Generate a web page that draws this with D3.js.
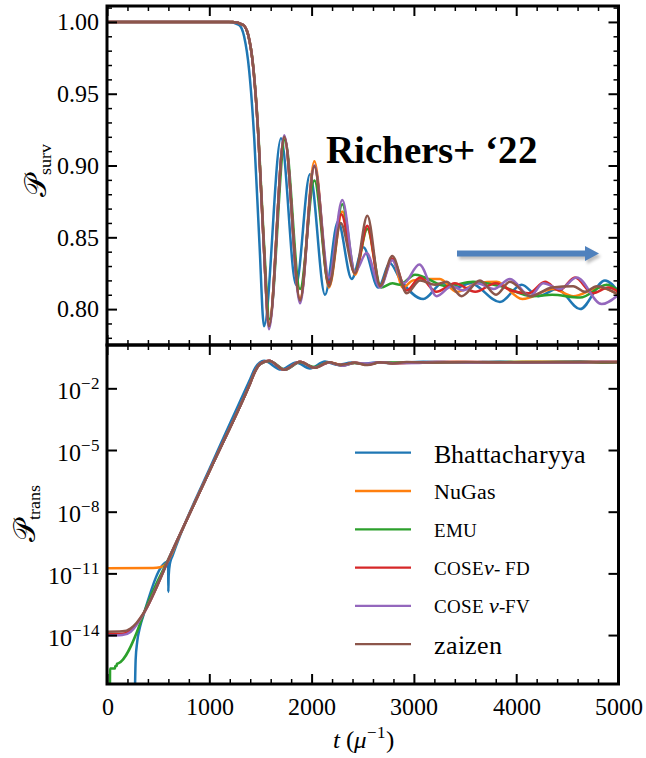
<!DOCTYPE html>
<html>
<head>
<meta charset="utf-8">
<script src="https://cdn.jsdelivr.net/npm/d3@7"></script>
<style>
  @font-face { font-family: "PlotSerif"; src: local("Liberation Serif"), local("LiberationSerif"), local("LiberationSerif-Regular"), local("Tinos"), local("DejaVu Serif"), local("DejaVuSerif"); font-weight: normal; font-style: normal; }
  @font-face { font-family: "PlotSerif"; src: local("Liberation Serif Bold"), local("LiberationSerif-Bold"), local("DejaVu Serif Bold"), local("DejaVuSerif-Bold"); font-weight: bold; font-style: normal; }
  @font-face { font-family: "PlotSerif"; src: local("Liberation Serif Italic"), local("LiberationSerif-Italic"), local("DejaVu Serif Italic"), local("DejaVuSerif-Italic"); font-weight: normal; font-style: italic; }
  body { margin: 0; background: #fff; }
  svg { display: block; }
  svg text { font-family: "PlotSerif", "Liberation Serif", "Times New Roman", Tinos, "DejaVu Serif", "Noto Serif", serif; fill: #000; }
  svg text .script { font-family: "DejaVu Serif", "DejaVu Sans", "PlotSerif", serif; }
</style>
</head>
<body>
<svg id="chart" width="646" height="758"></svg>
<script>
// ---- series metadata ----
const seriesNames  = ["Bhattacharyya", "NuGas", "EMU", "COSEν-FD", "COSEν-FV", "zaizen"];
const seriesColors = ["#1f77b4", "#ff7f0e", "#2ca02c", "#d62728", "#9467bd", "#8c564b"];

// ---- survival probability, [t (1/mu), P_surv] ----
const survBhattacharyya = [[0,1.0],[1190,1.0],[1290,0.998],[1340,0.990],[1390,0.966],[1440,0.918],[1490,0.846],[1535,0.788],[1701,0.919],[1848,0.817],[1984,0.894],[2131,0.810],[2258,0.861],[2392,0.821],[2506,0.843],[2652,0.815],[2766,0.832],[2864,0.821],[3092,0.807],[3280,0.818],[3420,0.815],[3550,0.818],[3841,0.805],[4054,0.817],[4215,0.809],[4400,0.814],[4624,0.800],[4868,0.820],[5000,0.812]];
const survNuGas = [[0,1.0],[1230,1.0],[1330,0.998],[1380,0.991],[1430,0.968],[1480,0.920],[1530,0.848],[1584,0.789],[1733,0.920],[1887,0.807],[2027,0.903],[2170,0.815],[2300,0.868],[2424,0.824],[2545,0.856],[2669,0.816],[2789,0.835],[2893,0.815],[2991,0.820],[3150,0.821],[3255,0.821],[3418,0.812],[3620,0.818],[3809,0.819],[4060,0.807],[4360,0.814],[4558,0.809],[4819,0.815],[5000,0.810]];
const survEMU = [[0,1.0],[1230,1.0],[1330,0.998],[1380,0.991],[1430,0.969],[1480,0.922],[1530,0.852],[1590,0.793],[1740,0.918],[1887,0.814],[2027,0.8896],[2170,0.817],[2300,0.873],[2424,0.826],[2545,0.856],[2680,0.815],[2790,0.818],[2860,0.817],[3011,0.824],[3320,0.816],[3578,0.819],[3841,0.816],[4166,0.809],[4350,0.810],[4624,0.808],[4884,0.817],[5000,0.813]];
const survCoseFD = [[0,1.0],[1230,1.0],[1330,0.998],[1380,0.991],[1430,0.968],[1480,0.920],[1530,0.848],[1584,0.788],[1733,0.920],[1887,0.806],[2027,0.8995],[2170,0.818],[2290,0.866],[2424,0.825],[2545,0.858],[2669,0.816],[2789,0.835],[2930,0.813],[3060,0.822],[3220,0.812],[3400,0.818],[3600,0.812],[3800,0.818],[3950,0.813],[4120,0.811],[4282,0.819],[4420,0.813],[4575,0.822],[4750,0.811],[4900,0.815],[5000,0.812]];
const survCoseFV = [[0,1.0],[1230,1.0],[1330,0.998],[1380,0.991],[1430,0.968],[1480,0.920],[1530,0.847],[1584,0.786],[1733,0.921],[1887,0.804],[2027,0.900],[2170,0.822],[2300,0.876],[2424,0.826],[2538,0.839],[2669,0.815],[2789,0.834],[2900,0.818],[3053,0.831],[3223,0.809],[3370,0.816],[3483,0.813],[3620,0.818],[3780,0.814],[3939,0.821],[4135,0.809],[4265,0.818],[4428,0.814],[4591,0.822],[4835,0.8035],[5000,0.810]];
const survZaizen = [[0,1.0],[1230,1.0],[1330,0.998],[1380,0.991],[1430,0.968],[1480,0.920],[1530,0.848],[1584,0.788],[1733,0.920],[1887,0.806],[2027,0.8995],[2170,0.816],[2284,0.860],[2424,0.825],[2545,0.865],[2669,0.816],[2789,0.837],[2930,0.811],[3060,0.820],[3206,0.817],[3320,0.819],[3467,0.809],[3646,0.820],[3803,0.810],[3939,0.819],[4135,0.809],[4350,0.815],[4558,0.816],[4672,0.812],[4787,0.816],[5000,0.810]];

// ---- transition probability, [t (1/mu), log10 P_trans] ----
const transBhattacharyya = [[274,-16.5],[280,-15.2],[296,-14.3],[323,-13.6],[355,-13.05],[590,-10.45],[598,-10.5],[599.5,-11.9],[603,-11.1],[616,-10.5],[640,-10.15],[1040,-5.5],[1400,-1.55],[1450,-1.0],[1535,-0.66],[1701,-1.09],[1848,-0.74],[1984,-1.03],[2131,-0.70],[2258,-0.86],[2392,-0.75],[2506,-0.81],[2652,-0.735],[2766,-0.78],[3092,-0.71],[3500,-0.74],[3841,-0.71],[4054,-0.74],[4624,-0.70],[4868,-0.745],[5000,-0.725]];
const transNuGas = [[0,-10.75],[450,-10.74],[520,-10.7],[580,-10.52],[632,-10.05],[680,-9.5],[1040,-5.62],[1400,-1.75],[1450,-1.15],[1500,-0.80],[1584,-0.66],[1733,-1.1],[1887,-0.71],[2027,-1.0],[2170,-0.735],[2300,-0.88],[2424,-0.76],[2545,-0.84],[2669,-0.735],[2789,-0.78],[3100,-0.74],[3418,-0.72],[3809,-0.74],[4060,-0.71],[4558,-0.72],[5000,-0.72]];
const transEMU = [[29,-16.5],[30,-15.63],[78,-15.63],[80,-15.5],[95,-15.5],[97,-15.4],[110,-15.38],[323,-13.45],[355,-13.0],[648,-9.8],[1040,-5.62],[1400,-1.75],[1450,-1.15],[1500,-0.81],[1590,-0.67],[1740,-1.09],[1887,-0.73],[2027,-0.96],[2170,-0.74],[2300,-0.89],[2424,-0.77],[2545,-0.84],[2680,-0.735],[3011,-0.75],[3320,-0.74],[4166,-0.72],[4624,-0.72],[4884,-0.74],[5000,-0.73]];
const transCoseFD = [[0,-13.95],[150,-13.93],[230,-13.76],[290,-13.45],[355,-12.97],[648,-9.8],[1040,-5.62],[1400,-1.75],[1450,-1.15],[1500,-0.80],[1584,-0.66],[1733,-1.1],[1887,-0.71],[2027,-1.0],[2170,-0.74],[2290,-0.87],[2424,-0.76],[2545,-0.85],[2669,-0.735],[2789,-0.78],[3200,-0.72],[4000,-0.73],[5000,-0.72]];
const transCoseFV = [[0,-14.02],[150,-14.0],[230,-13.85],[290,-13.5],[355,-12.98],[648,-9.8],[1040,-5.62],[1400,-1.75],[1450,-1.15],[1500,-0.80],[1584,-0.655],[1733,-1.1],[1887,-0.705],[2027,-1.0],[2170,-0.75],[2300,-0.9],[2424,-0.76],[2538,-0.79],[2669,-0.735],[2789,-0.78],[3053,-0.77],[3223,-0.72],[3600,-0.74],[4000,-0.73],[4591,-0.75],[4835,-0.71],[5000,-0.72]];
const transZaizen = [[0,-13.84],[150,-13.82],[230,-13.68],[290,-13.4],[355,-12.95],[648,-9.8],[1040,-5.62],[1400,-1.75],[1450,-1.15],[1500,-0.80],[1584,-0.66],[1733,-1.1],[1887,-0.71],[2027,-1.0],[2170,-0.735],[2284,-0.86],[2424,-0.76],[2545,-0.87],[2669,-0.735],[2789,-0.79],[2930,-0.725],[3100,-0.74],[3500,-0.72],[4000,-0.735],[4500,-0.73],[5000,-0.72]];

// ---- axis ticks ----
const tTicks = [0, 1000, 2000, 3000, 4000, 5000];
const survTicks = [0.80, 0.85, 0.90, 0.95, 1.00];
const transTickExponents = [-14, -11, -8, -5, -2];

const survSeries  = [survBhattacharyya, survNuGas, survEMU, survCoseFD, survCoseFV, survZaizen];
const transSeries = [transBhattacharyya, transNuGas, transEMU, transCoseFD, transCoseFV, transZaizen];

// ---- layout ----
const L = 107, R = 618.5, T = 6, M = 345, B = 684;
const svg = d3.select("#chart");

const x = d3.scaleLinear().domain([0, 5000]).range([L, R]);
const ySurv = d3.scaleLinear().domain([0.775, 1.0111]).range([M, T]);
const yTrans = d3.scaleLog().domain([Math.pow(10, -16.38), Math.pow(10, 0.107)]).range([B, M]);

const defs = svg.append("defs");
defs.append("clipPath").attr("id", "clipTop").append("rect")
  .attr("x", L).attr("y", T).attr("width", R - L).attr("height", M - T);
defs.append("clipPath").attr("id", "clipBot").append("rect")
  .attr("x", L).attr("y", M).attr("width", R - L).attr("height", B - M);
const blur = defs.append("filter").attr("id", "shadow").attr("x", "-10%").attr("y", "-50%").attr("width", "120%").attr("height", "200%");
blur.append("feGaussianBlur").attr("stdDeviation", 1.6);

// ---- curves ----
const lineSurv = d3.line().x(d => x(d[0])).y(d => ySurv(d[1])).curve(d3.curveMonotoneX);
const lineTrans = d3.line().x(d => x(d[0])).y(d => yTrans(Math.pow(10, d[1]))).curve(d3.curveMonotoneX);

const gTop = svg.append("g").attr("clip-path", "url(#clipTop)");
survSeries.forEach((s, i) => {
  gTop.append("path").attr("d", lineSurv(s)).attr("fill", "none")
    .attr("stroke", seriesColors[i]).attr("stroke-width", 2.5).attr("stroke-linejoin", "round");
});
const gBot = svg.append("g").attr("clip-path", "url(#clipBot)");
transSeries.forEach((s, i) => {
  gBot.append("path").attr("d", lineTrans(s)).attr("fill", "none")
    .attr("stroke", seriesColors[i]).attr("stroke-width", 2.5).attr("stroke-linejoin", "round");
});

// ---- axes (inward ticks on all four sides) ----
const tMinor = d3.range(0, 5001, 200).filter(v => v % 1000 !== 0);
const survMinor = d3.range(78, 102).map(v => v / 100).filter(v => Math.round(v * 100) % 5 !== 0);

function ticks(g, axis, major) {
  g.call(axis).attr("font-family", null).attr("font-size", null);
  g.select(".domain").remove();
  g.selectAll(".tick line").attr("stroke", "#000").attr("stroke-width", major ? 2 : 1.5);
  g.selectAll("text").attr("font-size", 24);
}

// top panel
ticks(svg.append("g").attr("transform", `translate(${L},0)`),
  d3.axisLeft(ySurv).tickValues(survTicks).tickSize(-10).tickPadding(8).tickFormat(d3.format(".2f")), true);
ticks(svg.append("g").attr("transform", `translate(${L},0)`),
  d3.axisLeft(ySurv).tickValues(survMinor).tickSize(-5).tickFormat(""), false);
ticks(svg.append("g").attr("transform", `translate(${R},0)`),
  d3.axisRight(ySurv).tickValues(survTicks).tickSize(-10).tickFormat(""), true);
ticks(svg.append("g").attr("transform", `translate(${R},0)`),
  d3.axisRight(ySurv).tickValues(survMinor).tickSize(-5).tickFormat(""), false);
[[T, d3.axisTop], [M, d3.axisBottom]].forEach(([yy, ax]) => {
  ticks(svg.append("g").attr("transform", `translate(0,${yy})`), ax(x).tickValues(tTicks).tickSize(-10).tickFormat(""), true);
  ticks(svg.append("g").attr("transform", `translate(0,${yy})`), ax(x).tickValues(tMinor).tickSize(-5).tickFormat(""), false);
});

// bottom panel
const transTickVals = transTickExponents.map(e => Math.pow(10, e));
const gTL = svg.append("g").attr("transform", `translate(${L},0)`);
ticks(gTL, d3.axisLeft(yTrans).tickValues(transTickVals).tickSize(-10).tickPadding(7).tickFormat(""), true);
gTL.selectAll(".tick").each(function (d, i) {
  const t = d3.select(this).select("text");
  t.attr("dy", "0.42em").text("10");
  t.append("tspan").attr("dy", -10).attr("font-size", 17).text("\u2212" + Math.abs(transTickExponents[i]));
});
ticks(svg.append("g").attr("transform", `translate(${R},0)`),
  d3.axisRight(yTrans).tickValues(transTickVals).tickSize(-10).tickFormat(""), true);
[[M, d3.axisTop], [B, d3.axisBottom]].forEach(([yy, ax]) => {
  ticks(svg.append("g").attr("transform", `translate(0,${yy})`), ax(x).tickValues(tTicks).tickSize(-10).tickFormat(""), true);
  ticks(svg.append("g").attr("transform", `translate(0,${yy})`), ax(x).tickValues(tMinor).tickSize(-5).tickFormat(""), false);
});
// t labels under the bottom panel
ticks(svg.append("g").attr("transform", `translate(0,${B})`),
  d3.axisBottom(x).tickValues(tTicks).tickSize(0).tickPadding(14).tickFormat(d3.format("d")), true);

// spines
[[T, M], [M, B]].forEach(([a, b]) => {
  svg.append("rect").attr("x", L).attr("y", a).attr("width", R - L).attr("height", b - a)
    .attr("fill", "none").attr("stroke", "#000").attr("stroke-width", 3);
});

// ---- axis titles ----
const ylab1 = svg.append("text").attr("transform", "translate(46,170) rotate(-90)").attr("text-anchor", "middle");
ylab1.append("tspan").attr("class", "script").attr("font-size", 30).text("𝒫");
ylab1.append("tspan").attr("font-size", 18).attr("dy", 5).text("surv");
const ylab2 = svg.append("text").attr("transform", "translate(35,513) rotate(-90)").attr("text-anchor", "middle");
ylab2.append("tspan").attr("class", "script").attr("font-size", 30).text("𝒫");
ylab2.append("tspan").attr("font-size", 18).attr("dy", 5).text("trans");

const xlab = svg.append("text").attr("x", 363).attr("y", 748).attr("text-anchor", "middle").attr("font-size", 25);
xlab.append("tspan").attr("font-style", "italic").text("t");
xlab.append("tspan").text(" (");
xlab.append("tspan").attr("font-style", "italic").text("μ");
xlab.append("tspan").attr("font-size", 17).attr("dy", -10).text("\u22121");
xlab.append("tspan").attr("dy", 10).text(")");

// ---- legend ----
const legend = svg.append("g");
const legendLabels = [
  [{ t: "Bhattacharyya", s: 26 }],
  [{ t: "NuGas", s: 22 }],
  [{ t: "EMU", s: 19 }],
  [{ t: "COSE", s: 19 }, { t: "ν", s: 22, i: true }, { t: "- FD", s: 19 }],
  [{ t: "COSE ", s: 19 }, { t: "ν", s: 22, i: true }, { t: "-FV", s: 19 }],
  [{ t: "zaizen", s: 26 }]
];
seriesNames.forEach((name, i) => {
  const yy = 452.7 + i * 38.3;
  legend.append("line").attr("x1", 355).attr("x2", 411).attr("y1", yy).attr("y2", yy)
    .attr("stroke", seriesColors[i]).attr("stroke-width", 2.3);
  const tx = legend.append("text").attr("x", 434).attr("y", yy + (i === 0 || i === 5 ? 10 : 7.5));
  legendLabels[i].forEach(p => {
    const sp = tx.append("tspan").attr("font-size", p.s).text(p.t);
    if (p.i) sp.attr("font-style", "italic");
  });
});

// ---- annotation ----
svg.append("text").attr("x", 326).attr("y", 163).attr("font-size", 38.5).attr("font-weight", "bold")
  .text("Richers+ \u201822");

const arrowPts = [[457, 250.5], [585, 250.5], [585, 246], [599, 253.5], [585, 261], [585, 256.5], [457, 256.5]];
svg.append("polygon").attr("points", arrowPts.map(p => [p[0] + 2, p[1] + 3].join(",")).join(" "))
  .attr("fill", "#8a8a8a").attr("opacity", 0.55).attr("filter", "url(#shadow)");
svg.append("polygon").attr("points", arrowPts.map(p => p.join(",")).join(" ")).attr("fill", "#4f81bd");
</script>
</body>
</html>
